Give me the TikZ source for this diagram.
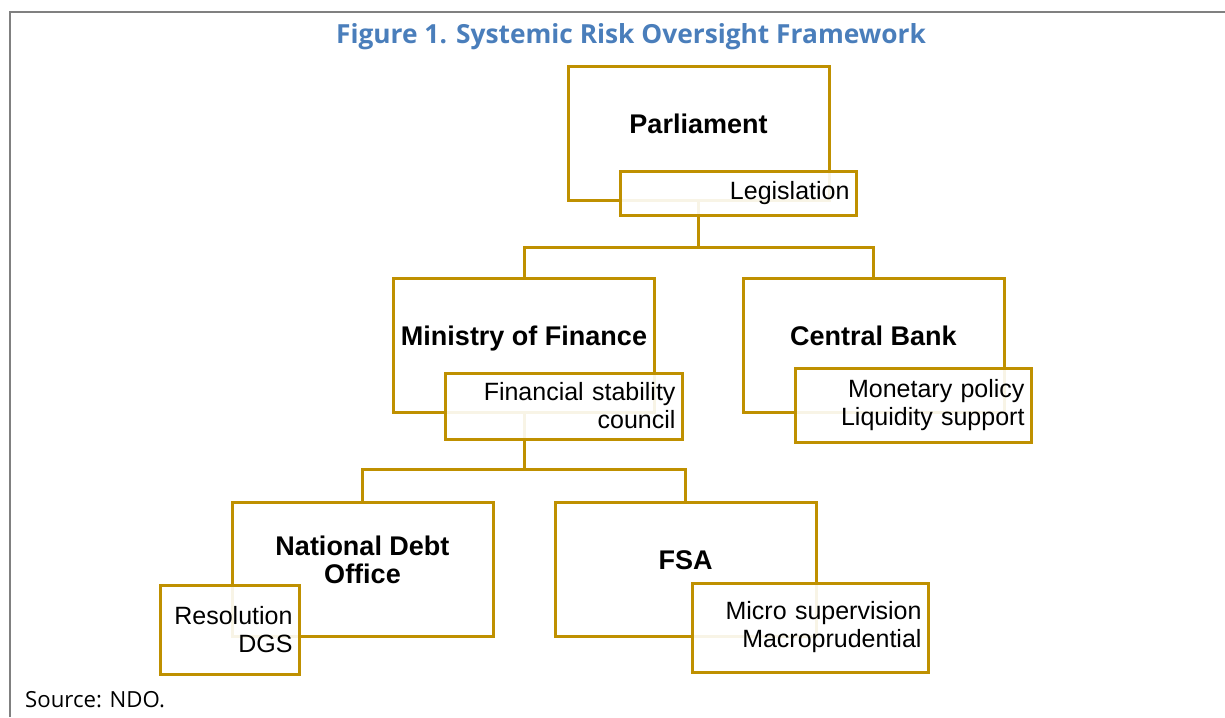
\documentclass[tikz,border=0pt]{standalone}
\usepackage{fontspec}
\setmainfont{Liberation Sans}
\newfontfamily\titlefont{Open Sans}
\usetikzlibrary{positioning}
\definecolor{gold}{HTML}{BF9000}
\definecolor{titleblue}{HTML}{4A7EBB}
\definecolor{framegrey}{HTML}{808080}

\begin{document}
\begin{tikzpicture}[x=1pt,y=-1pt,
		bigbox/.style={draw=gold,line width=3pt,fill=white,inner sep=0pt,minimum width=261pt,minimum height=134pt},
		smallbox/.style={draw=gold,line width=3pt,fill=white,fill opacity=0.9,text opacity=1,inner xsep=6.5pt,inner ysep=0pt,align=right,font=\fontsize{25}{28}\selectfont},
		headtext/.style={font=\fontsize{27}{28}\selectfont\bfseries,align=center,inner sep=0pt},
		headone/.style={headtext,text height=19.4pt,text depth=0pt},
		conn/.style={draw=gold,line width=3pt}]
			\useasboundingbox (0,0) rectangle (1225,717);
			\draw[framegrey,line width=2pt] (10,717) -- (10,12) -- (1225,12);
			\node[font=\titlefont\bfseries\fontsize{26.3}{30}\selectfont,text=titleblue,inner sep=0pt] (title) at (631,37) {Figure 1. Systemic Risk Oversight Framework};
			\node[bigbox] (parl) at (698.5,133) {};
			\node[bigbox] (mof) at (524,345) {};
			\node[bigbox] (cb) at (873.5,345) {};
			\node[bigbox] (ndo) at (362.5,569) {};
			\node[bigbox] (fsa) at (685.5,569) {};
			\coordinate (split1) at (698.5,247);
			\coordinate (split2) at (524,469);
			\draw[conn] (parl.south) -- (split1) -| (mof.north);
			\draw[conn] (split1) -| (cb.north);
			\draw[conn] (mof.south) -- (split2) -| (ndo.north);
			\draw[conn] (split2) -| (fsa.north);
			\node[headone] (parltext) at (698.5,124) {Parliament};
			\node[headone] (moftext) at (524,336) {Ministry of Finance};
			\node[headone] (cbtext) at (873.5,336) {Central Bank};
			\node[headtext] (ndotext) at (362.5,560) {National Debt\\Office};
			\node[headone] (fsatext) at (685.5,560) {FSA};
			\node[smallbox,text width=223pt,minimum height=44pt] (leg) at (738,193) {Legislation};
			\node[smallbox,text width=224pt,minimum height=66pt] (fsc) at (563.5,406) {Financial stability\\council};
			\node[smallbox,text width=223pt,minimum height=74pt] (mon) at (913,405) {Monetary policy\\Liquidity support};
			\node[smallbox,text width=126pt,minimum height=89pt] (res) at (229.5,629.5) {Resolution\\DGS};
			\node[smallbox,text width=223pt,minimum height=89pt] (mic) at (810,627.5) {Micro supervision\\Macroprudential};
			\node[anchor=west,font=\titlefont\fontsize{22.2}{24}\selectfont,inner sep=0pt] (source) at (25,700) {Source: NDO.};
		\end{tikzpicture}
\end{document}
